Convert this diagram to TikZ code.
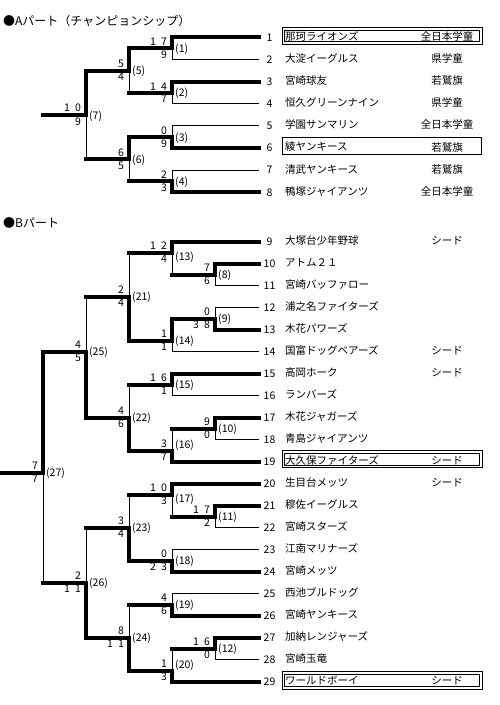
\documentclass[tikz,border=0pt]{standalone}
\usepackage{fontspec}
\setmainfont{Noto Sans CJK JP}
\newcommand\dg[1]{\makebox[5.5pt]{#1}}
\newcommand\dd[2]{\dg{#1}\dg{}\dg{#2}}
\newcommand\teamrow[4]{%
  \coordinate (t#1) at (259,#2);
  \node[numsty] (n#1) at (269.5,#2) {#1};
  \node[namesty] (nm#1) at (285,#2-1) {#3};
  \if\relax\detokenize{#4}\relax\else\node[clssty] (c#1) at (447,#2-1) {#4};\fi}
\newcommand\matchpt[6]{%
  \coordinate (m#1) at (#2,#3);
  \node[scsty,anchor=south east] (su#1) at (#2-5,#3-2.5) {#4};
  \node[scsty,anchor=north east] (sl#1) at (#2-5,#3+2.5) {#5};
  \node[lblsty] (l#1) at (#2+3,#6) {(#1)};}
\newcommand\tline[3]{\draw[#3] (t#1) -- (t#1 -| m#2);}
\newcommand\bmatch[6]{%
  \draw[#4] (m#1 |- #2) -- (m#1);
  \draw[#5] (m#1) -- (m#1 |- #3);
  \draw[thk] (m#1) -- (m#1 -| #6);}
\begin{document}
\begin{tikzpicture}[x=1pt,y=-1pt,
  thk/.style={line width=4pt,line cap=rect},
  thn/.style={line width=1pt},
  numsty/.style={inner sep=0pt,font=\fontsize{10.5}{12}\selectfont},
  namesty/.style={inner sep=0pt,anchor=west,font=\fontsize{10.5}{12}\selectfont},
  clssty/.style={inner sep=0pt,font=\fontsize{10.5}{12}\selectfont},
  scsty/.style={inner sep=0pt,font=\fontsize{10.5}{12}\selectfont},
  lblsty/.style={inner sep=0pt,anchor=west,font=\fontsize{10.5}{12}\selectfont},
  headsty/.style={inner sep=0pt,anchor=west,font=\fontsize{12}{14}\selectfont}]
\useasboundingbox[fill=white] (0,0) rectangle (500,705);
\node[headsty] (hA) at (3,21) {●Aパート（チャンピョンシップ）};
\node[headsty] (hB) at (3,223) {●Bパート};
% ---- A teams
\teamrow{1}{37.3}{那珂ライオンズ}{全日本学童}
\teamrow{2}{59.4}{大淀イーグルス}{県学童}
\teamrow{3}{81.6}{宮崎球友}{若鷲旗}
\teamrow{4}{103.7}{恒久グリーンナイン}{県学童}
\teamrow{5}{125.9}{学園サンマリン}{全日本学童}
\teamrow{6}{148.0}{綾ヤンキース}{若鷲旗}
\teamrow{7}{170.2}{清武ヤンキース}{若鷲旗}
\teamrow{8}{192.3}{鴨塚ジャイアンツ}{全日本学童}
% ---- B teams
\teamrow{9}{241.6}{大塚台少年野球}{シード}
\teamrow{10}{263.6}{アトム２１}{}
\teamrow{11}{285.6}{宮崎バッファロー}{}
\teamrow{12}{307.6}{浦之名ファイターズ}{}
\teamrow{13}{329.6}{木花パワーズ}{}
\teamrow{14}{351.6}{国富ドッグベアーズ}{シード}
\teamrow{15}{373.6}{高岡ホーク}{シード}
\teamrow{16}{395.6}{ランバーズ}{}
\teamrow{17}{417.6}{木花ジャガーズ}{}
\teamrow{18}{439.6}{青島ジャイアンツ}{}
\teamrow{19}{461.6}{大久保ファイターズ}{シード}
\teamrow{20}{483.6}{生目台メッツ}{シード}
\teamrow{21}{505.6}{穆佐イーグルス}{}
\teamrow{22}{527.6}{宮崎スターズ}{}
\teamrow{23}{549.6}{江南マリナーズ}{}
\teamrow{24}{571.6}{宮崎メッツ}{}
\teamrow{25}{593.6}{西池ブルドッグ}{}
\teamrow{26}{615.6}{宮崎ヤンキース}{}
\teamrow{27}{637.6}{加納レンジャーズ}{}
\teamrow{28}{659.6}{宮崎玉竜}{}
\teamrow{29}{681.6}{ワールドボーイ}{シード}
% ---- A matches
\matchpt{1}{172}{48.4}{\dd17}{\dg9}{49.4}
\matchpt{2}{172}{92.7}{\dd14}{\dg7}{93.7}
\matchpt{3}{172}{137.0}{\dg0}{\dg9}{138}
\matchpt{4}{172}{181.3}{\dg2}{\dg3}{182.3}
\matchpt{5}{129}{70.5}{\dg5}{\dg4}{71.5}
\matchpt{6}{129}{159.1}{\dg6}{\dg5}{160.1}
\matchpt{7}{86}{114.8}{\dd10}{\dg9}{115.8}
\coordinate (endA) at (43,114.8);
% ---- B matches
\matchpt{8}{215}{274.6}{\dg7}{\dg6}{275.5}
\matchpt{9}{215}{318.6}{\dg0}{\dd38}{319.5}
\matchpt{10}{215}{428.6}{\dg9}{\dg0}{429.5}
\matchpt{11}{215}{516.6}{\dd17}{\dg2}{517.5}
\matchpt{12}{215}{648.6}{\dd16}{\dg0}{649.5}
\matchpt{13}{172}{252.6}{\dd12}{\dg4}{257.5}
\matchpt{14}{172}{340.6}{\dg1}{\dg1}{341.5}
\matchpt{15}{172}{384.6}{\dd16}{\dg1}{385.5}
\matchpt{16}{172}{450.6}{\dg3}{\dg7}{445.5}
\matchpt{17}{172}{494.6}{\dd10}{\dg3}{499}
\matchpt{18}{172}{560.6}{\dg0}{\dd23}{561.5}
\matchpt{19}{172}{604.6}{\dg4}{\dg6}{605.5}
\matchpt{20}{172}{670.6}{\dg1}{\dg3}{665.5}
\matchpt{21}{129}{296.6}{\dg2}{\dg4}{297.5}
\matchpt{22}{129}{417.6}{\dg4}{\dg6}{418.5}
\matchpt{23}{129}{527.6}{\dg3}{\dg4}{528.5}
\matchpt{24}{129}{637.6}{\dg8}{\dd11}{638.5}
\matchpt{25}{86}{351.6}{\dg4}{\dg5}{352.5}
\matchpt{26}{86}{582.6}{\dg2}{\dd11}{583.5}
\matchpt{27}{43}{472.6}{\dg7}{\dg7}{473.5}
\coordinate (endB) at (1,472.6);
% ---- A lines
\tline{1}{1}{thk}\tline{2}{1}{thn}\tline{3}{2}{thk}\tline{4}{2}{thn}
\tline{5}{3}{thn}\tline{6}{3}{thk}\tline{7}{4}{thn}\tline{8}{4}{thk}
\bmatch{1}{t1}{t2}{thk}{thn}{m5}
\bmatch{2}{t3}{t4}{thk}{thn}{m5}
\bmatch{3}{t5}{t6}{thn}{thk}{m6}
\bmatch{4}{t7}{t8}{thn}{thk}{m6}
\bmatch{5}{m1}{m2}{thk}{thn}{m7}
\bmatch{6}{m3}{m4}{thk}{thn}{m7}
\bmatch{7}{m5}{m6}{thk}{thn}{endA}
% ---- B lines
\tline{9}{13}{thk}\tline{10}{8}{thk}\tline{11}{8}{thn}\tline{12}{9}{thn}
\tline{13}{9}{thk}\tline{14}{14}{thn}\tline{15}{15}{thk}\tline{16}{15}{thn}
\tline{17}{10}{thk}\tline{18}{10}{thn}\tline{19}{16}{thk}\tline{20}{17}{thk}
\tline{21}{11}{thk}\tline{22}{11}{thn}\tline{23}{18}{thn}\tline{24}{18}{thk}
\tline{25}{19}{thn}\tline{26}{19}{thk}\tline{27}{12}{thk}\tline{28}{12}{thn}
\tline{29}{20}{thk}
\bmatch{8}{t10}{t11}{thk}{thn}{m13}
\bmatch{9}{t12}{t13}{thn}{thk}{m14}
\bmatch{10}{t17}{t18}{thk}{thn}{m16}
\bmatch{11}{t21}{t22}{thk}{thn}{m17}
\bmatch{12}{t27}{t28}{thk}{thn}{m20}
\bmatch{13}{t9}{m8}{thk}{thn}{m21}
\bmatch{14}{m9}{t14}{thk}{thn}{m21}
\bmatch{15}{t15}{t16}{thk}{thn}{m22}
\bmatch{16}{m10}{t19}{thn}{thk}{m22}
\bmatch{17}{t20}{m11}{thk}{thn}{m23}
\bmatch{18}{t23}{t24}{thn}{thk}{m23}
\bmatch{19}{t25}{t26}{thn}{thk}{m24}
\bmatch{20}{m12}{t29}{thn}{thk}{m24}
\bmatch{21}{m13}{m14}{thn}{thk}{m25}
\bmatch{22}{m15}{m16}{thn}{thk}{m25}
\bmatch{23}{m17}{m18}{thn}{thk}{m26}
\bmatch{24}{m19}{m20}{thn}{thk}{m26}
\bmatch{25}{m21}{m22}{thn}{thk}{m27}
\bmatch{26}{m23}{m24}{thn}{thk}{m27}
\bmatch{27}{m25}{m26}{thk}{thn}{endB}
% ---- highlight boxes
\draw[thn] (282,27.8) rectangle (482,44.3);
\draw[thn] (284.5,30.3) rectangle (479.5,41.8);
\draw[thn] (282,137.5) rectangle (481,154);
\draw[thn] (282,450.5) rectangle (482,467.8);
\draw[thn] (284.5,453) rectangle (479.5,465.3);
\draw[thn] (282,671.7) rectangle (482,689);
\draw[thn] (284.5,674.2) rectangle (479.5,686.5);
\end{tikzpicture}
\end{document}
